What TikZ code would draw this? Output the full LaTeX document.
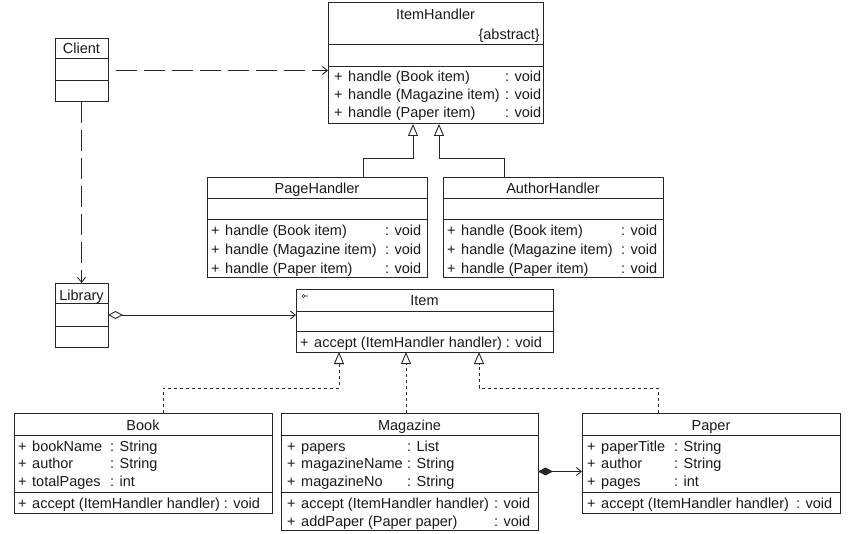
\documentclass[tikz,border=0pt]{standalone}
\usepackage{fontspec}
\setmainfont{Liberation Sans}
\usetikzlibrary{arrows.meta}

\newcommand{\pl}{\makebox[14pt][l]{+}}

\tikzset{
  umlbox/.style={draw=black!85, line width=1pt, inner sep=0pt, outer sep=0pt, anchor=north west},
  sep/.style={draw=black!85, line width=1pt},
  txt/.style={inner sep=0pt, anchor=west, text height=10pt, text depth=0pt, text=black!90},
  ctxt/.style={txt, anchor=center},
  rtxt/.style={txt, anchor=east},
  dep/.style={draw=black!85, line width=0.9pt, dash pattern=on 21pt off 7pt,
    -{Straight Barb[length=5pt,width=8pt]}},
  gen/.style={draw=black!85, line width=0.9pt,
    -{Triangle[open,length=12pt,width=10pt,fill=white]}},
  real/.style={gen, dash pattern=on 3pt off 3pt},
  aggr/.style={draw=black!85, line width=0.9pt,
    {Diamond[open,length=15pt,width=8pt,fill=white]}-{Straight Barb[length=5pt,width=8pt]}},
  comp/.style={draw=black!85, line width=0.9pt,
    {Diamond[length=15pt,width=8pt]}-{Straight Barb[length=5pt,width=8pt]}},
}

\begin{document}
\begin{tikzpicture}[x=1pt, y=-1pt, font=\fontsize{14.5}{18}\selectfont]
\useasboundingbox (0,0) rectangle (858,534);

% ItemHandler
\node[umlbox, minimum width=215pt, minimum height=121pt] (itemhandler) at (328,3) {};
\draw[sep] (328,45) -- (543,45);
\draw[sep] (328,67) -- (543,67);
\node[ctxt] (ih-name) at (435.5,15) {ItemHandler};
\node[rtxt] (ih-abs) at (540,35) {\{abstract\}};
\node[txt] (ih-m1) at (334,77) {\pl handle (Book item)};
\node[txt] (ih-m2) at (334,95) {\pl handle (Magazine item)};
\node[txt] (ih-m3) at (334,113) {\pl handle (Paper item)};
\node[txt] (ih-v1) at (505,77) {: void};
\node[txt] (ih-v2) at (505,95) {: void};
\node[txt] (ih-v3) at (505,113) {: void};

% PageHandler
\node[umlbox, minimum width=220pt, minimum height=99pt] (pagehandler) at (207,178) {};
\draw[sep] (207,199) -- (427,199);
\draw[sep] (207,220) -- (427,220);
\node[ctxt] (ph-name) at (317,189) {PageHandler};
\node[txt] (ph-m1) at (211,231) {\pl handle (Book item)};
\node[txt] (ph-m2) at (211,249.5) {\pl handle (Magazine item)};
\node[txt] (ph-m3) at (211,268) {\pl handle (Paper item)};
\node[txt] (ph-v1) at (385,231) {: void};
\node[txt] (ph-v2) at (385,249.5) {: void};
\node[txt] (ph-v3) at (385,268) {: void};

% AuthorHandler
\node[umlbox, minimum width=220pt, minimum height=99pt] (authorhandler) at (443,178) {};
\draw[sep] (443,199) -- (663,199);
\draw[sep] (443,220) -- (663,220);
\node[ctxt] (ah-name) at (553,189) {AuthorHandler};
\node[txt] (ah-m1) at (447,231) {\pl handle (Book item)};
\node[txt] (ah-m2) at (447,249.5) {\pl handle (Magazine item)};
\node[txt] (ah-m3) at (447,268) {\pl handle (Paper item)};
\node[txt] (ah-v1) at (621,231) {: void};
\node[txt] (ah-v2) at (621,249.5) {: void};
\node[txt] (ah-v3) at (621,268) {: void};

% Client and Library
\node[umlbox, minimum width=53pt, minimum height=63pt] (client) at (55,39) {};
\draw[sep] (55,59) -- (108,59);
\draw[sep] (55,81) -- (108,81);
\node[ctxt] (cl-name) at (81.5,49) {Client};

\node[umlbox, minimum width=53pt, minimum height=64pt] (library) at (55,283) {};
\draw[sep] (55,303) -- (108,303);
\draw[sep] (55,326) -- (108,326);
\node[ctxt] (lb-name) at (81.5,295) {Library};

% Item
\node[umlbox, minimum width=257pt, minimum height=63pt] (item) at (296,289) {};
\draw[sep] (296,311) -- (553,311);
\draw[sep] (296,331) -- (553,331);
\draw[black!85, line width=0.6pt] (303.5,296) circle (1.5pt) (305,296) -- (308,296);
\node[ctxt] (it-name) at (424.5,300) {Item};
\node[txt] (it-m1) at (300,342) {\pl accept (ItemHandler handler) : void};

% Book
\node[umlbox, minimum width=258pt, minimum height=100pt] (book) at (14,413) {};
\draw[sep] (14,435) -- (272,435);
\draw[sep] (14,492) -- (272,492);
\node[ctxt] (bk-name) at (143,425) {Book};
\node[txt] (bk-a1) at (18,446) {\pl bookName};
\node[txt] (bk-a2) at (18,463.5) {\pl author};
\node[txt] (bk-a3) at (18,481) {\pl totalPages};
\node[txt] (bk-t1) at (110,446) {: String};
\node[txt] (bk-t2) at (110,463.5) {: String};
\node[txt] (bk-t3) at (110,481) {: int};
\node[txt] (bk-m1) at (18,503) {\pl accept (ItemHandler handler) : void};

% Magazine
\node[umlbox, minimum width=257pt, minimum height=117pt] (magazine) at (281,413) {};
\draw[sep] (281,435) -- (538,435);
\draw[sep] (281,492) -- (538,492);
\node[ctxt] (mg-name) at (409.5,425) {Magazine};
\node[txt] (mg-a1) at (287,446) {\pl papers};
\node[txt] (mg-a2) at (287,463.5) {\pl magazineName};
\node[txt] (mg-a3) at (287,481) {\pl magazineNo};
\node[txt] (mg-t1) at (407,446) {: List};
\node[txt] (mg-t2) at (407,463.5) {: String};
\node[txt] (mg-t3) at (407,481) {: String};
\node[txt] (mg-m1) at (287,503) {\pl accept (ItemHandler handler)};
\node[txt] (mg-m2) at (287,521) {\pl addPaper (Paper paper)};
\node[txt] (mg-v1) at (494,503) {: void};
\node[txt] (mg-v2) at (494,521) {: void};

% Paper
\node[umlbox, minimum width=258pt, minimum height=100pt] (paper) at (582,413) {};
\draw[sep] (582,435) -- (840,435);
\draw[sep] (582,492) -- (840,492);
\node[ctxt] (pp-name) at (711,425) {Paper};
\node[txt] (pp-a1) at (587,446) {\pl paperTitle};
\node[txt] (pp-a2) at (587,463.5) {\pl author};
\node[txt] (pp-a3) at (587,481) {\pl pages};
\node[txt] (pp-t1) at (674,446) {: String};
\node[txt] (pp-t2) at (674,463.5) {: String};
\node[txt] (pp-t3) at (674,481) {: int};
\node[txt] (pp-m1) at (587,503) {\pl accept (ItemHandler handler)};
\node[txt] (pp-v1) at (796,503) {: void};

% bend points
\coordinate (ph-up) at (363,158);
\coordinate (ih-in1) at (413,158);
\coordinate (ah-up) at (504,158);
\coordinate (ih-in2) at (439,158);
\coordinate (bk-up) at (163,388);
\coordinate (it-in1) at (339,388);
\coordinate (it-in2) at (406,388);
\coordinate (pp-up) at (658,388);
\coordinate (it-in3) at (479,388);

% connectors
\draw[dep, shorten <=8pt] (client.east) -- (client.east -| itemhandler.west);
\draw[dep] (client.south) -- (library.north);
\draw[aggr] (library.east) -- (library.east -| item.west);
\draw[comp] (magazine.east) -- (magazine.east -| paper.west);

\draw[gen] (pagehandler.north -| ph-up) |- (ih-in1) -- (itemhandler.south -| ih-in1);
\draw[gen] (authorhandler.north -| ah-up) |- (ih-in2) -- (itemhandler.south -| ih-in2);

\draw[real] (book.north -| bk-up) |- (it-in1) -- (item.south -| it-in1);
\draw[real] (magazine.north -| it-in2) -- (item.south -| it-in2);
\draw[real] (paper.north -| pp-up) |- (it-in3) -- (item.south -| it-in3);
\end{tikzpicture}
\end{document}
